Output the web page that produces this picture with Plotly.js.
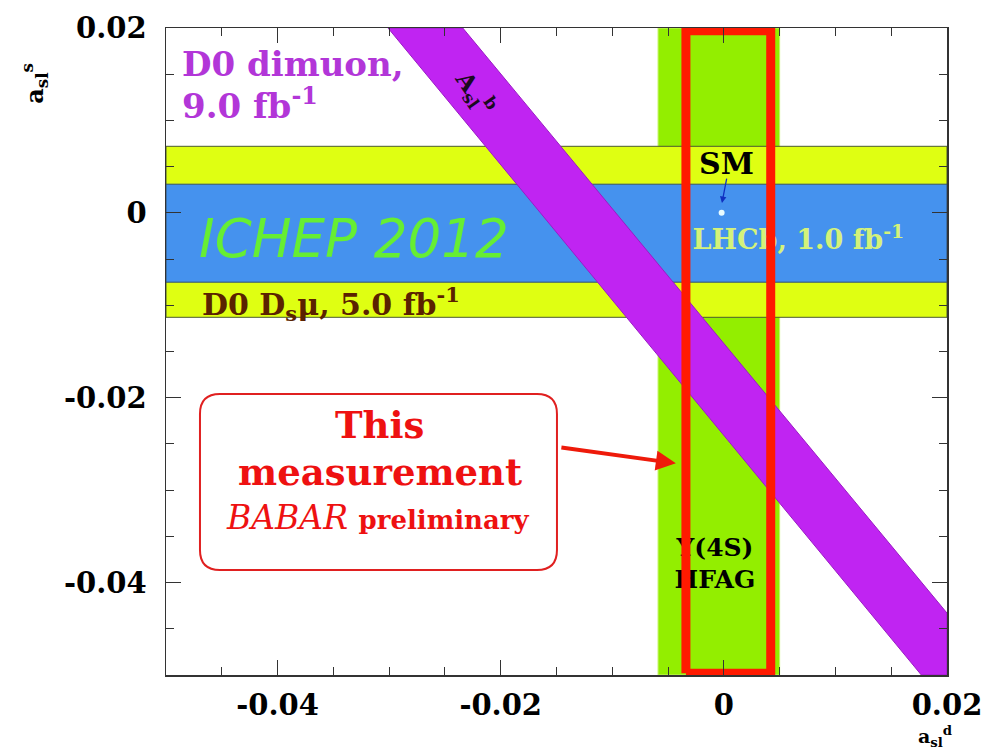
<!DOCTYPE html>
<html>
<head>
<meta charset="utf-8">
<script src="https://cdn.plot.ly/plotly-3.0.1.min.js"></script>
<style>
  html, body { margin: 0; padding: 0; background: #ffffff; }
  #chart { width: 991px; height: 751px; }
</style>
</head>
<body>
<div id="chart"></div>
<script>
// ---------------- data ----------------
const xRange = [-0.05, 0.02];          // a_sl^d axis range
const yRange = [-0.05, 0.02];          // a_sl^s axis range
const xTickVals = [-0.04, -0.02, 0, 0.02];
const xTickText = ['-0.04', '-0.02', '0', '0.02'];
const yTickVals = [-0.04, -0.02, 0, 0.02];
const yTickText = ['-0.04', '-0.02', '0', '0.02'];

// Upsilon(4S) HFAG band in a_sl^d
const hfagBand = [-0.0059, 0.0050];
// D0 Ds mu band (outer, yellow) in a_sl^s
const d0DsmuBand = [-0.0113, 0.0072];
// LHCb band (inner, blue) in a_sl^s
const lhcbBand = [-0.0075, 0.0031];
// D0 dimuon A_sl^b band corners
const dimuonX = [-0.0301, -0.0234, 0.0200, 0.0200, 0.0177];
const dimuonY = [ 0.0200,  0.0200, -0.0433, -0.0500, -0.0500];
// This measurement (BABAR) box
const babarX = [-0.0034, 0.0042];
const babarY = [-0.0498, 0.0197];
// Standard Model point
const smX = [-0.0002];
const smY = [0.0000];

// ---------------- helpers ----------------
function vBand(r, y) { return { x: [r[0], r[1], r[1], r[0], r[0]], y: [y[0], y[0], y[1], y[1], y[0]] }; }
function hBand(r, x) { return { x: [x[0], x[1], x[1], x[0], x[0]], y: [r[0], r[0], r[1], r[1], r[0]] }; }

const SERIF = 'DejaVu Serif, Liberation Serif, serif';

const g = vBand(hfagBand, yRange);
const yb = hBand(d0DsmuBand, xRange);
const bb = hBand(lhcbBand, xRange);
const rb = vBand(babarX, babarY);

const traces = [
  { type: 'scatter', mode: 'lines', x: g.x, y: g.y, fill: 'toself',
    fillcolor: '#93ee00', line: { color: '#c6f56a', width: 1 }, hoverinfo: 'skip', showlegend: false },
  { type: 'scatter', mode: 'lines', x: yb.x, y: yb.y, fill: 'toself',
    fillcolor: '#dfff12', line: { color: '#4a5a30', width: 1 }, hoverinfo: 'skip', showlegend: false },
  { type: 'scatter', mode: 'lines', x: bb.x, y: bb.y, fill: 'toself',
    fillcolor: '#4592ee', line: { color: '#35506a', width: 1 }, hoverinfo: 'skip', showlegend: false },
  { type: 'scatter', mode: 'lines', x: dimuonX.concat([dimuonX[0]]), y: dimuonY.concat([dimuonY[0]]), fill: 'toself',
    fillcolor: '#c024f2', line: { color: '#9a1cc4', width: 1 }, hoverinfo: 'skip', showlegend: false },
  { type: 'scatter', mode: 'markers', x: smX, y: smY,
    marker: { color: '#e8fbff', size: 6 }, hoverinfo: 'skip', showlegend: false },
  { type: 'scatter', mode: 'text', x: [lhcbBand[0] + 0.0047], y: [-0.0032],
    text: ['<b>LHCb, 1.0 fb<sup>-1</sup></b>'], textposition: 'middle right',
    textfont: { family: SERIF, size: 27, color: '#d4f27a' }, hoverinfo: 'skip', showlegend: false },
  { type: 'scatter', mode: 'text', x: [-0.0008], y: [-0.0382],
    text: ['<b>Υ(4S)<br>HFAG</b>'], textposition: 'middle center',
    textfont: { family: SERIF, size: 25, color: '#000000' }, hoverinfo: 'skip', showlegend: false },
  { type: 'scatter', mode: 'lines', x: rb.x, y: rb.y,
    line: { color: '#ff1a00', width: 9 }, hoverinfo: 'skip', showlegend: false }
];

// rounded callout box (paper coordinates)
const bx0 = 0.0435, bx1 = 0.5006, byT = 0.4343, byB = 0.1623, rx = 0.0256, ry = 0.0309;
const boxPath = `M ${bx0 + rx},${byT} L ${bx1 - rx},${byT} Q ${bx1},${byT} ${bx1},${byT - ry} ` +
  `L ${bx1},${byB + ry} Q ${bx1},${byB} ${bx1 - rx},${byB} L ${bx0 + rx},${byB} ` +
  `Q ${bx0},${byB} ${bx0},${byB + ry} L ${bx0},${byT - ry} Q ${bx0},${byT} ${bx0 + rx},${byT} Z`;

const axisCommon = {
  showgrid: false, zeroline: false, showline: true, linecolor: '#333333', linewidth: 1.5,
  mirror: 'ticks', ticks: 'inside', ticklen: 15, tickwidth: 1.2, tickcolor: '#333333',
  tickmode: 'array', tickfont: { family: SERIF, size: 29, color: '#000000', weight: 'bold' },
  minor: { dtick: 0.005, ticks: 'inside', ticklen: 8, tickwidth: 1, tickcolor: '#333333' }
};

function note(x, y, text, font, extra) {
  return Object.assign({ xref: 'paper', yref: 'paper', x: x, y: y, xanchor: 'center', yanchor: 'middle',
    showarrow: false, text: text, font: font }, extra || {});
}

const layout = {
  width: 991, height: 751,
  margin: { l: 166, r: 44, t: 28, b: 76 },
  paper_bgcolor: '#ffffff', plot_bgcolor: '#ffffff',
  showlegend: false,
  xaxis: Object.assign({}, axisCommon, { range: xRange, tickvals: xTickVals, ticktext: xTickText, ticklabelstandoff: 4 }),
  yaxis: Object.assign({}, axisCommon, { range: yRange, tickvals: yTickVals, ticktext: yTickText, ticklabelstandoff: 12 }),
  shapes: [
    { type: 'path', xref: 'paper', yref: 'paper', path: boxPath, fillcolor: 'rgba(255,255,255,0)',
      line: { color: '#e02020', width: 2 }, layer: 'above' }
  ],
  annotations: [
    note(0.018, 0.944, '<b>D0 dimuon,</b>', { family: SERIF, size: 34, color: '#b236d8' }, { xanchor: 'left' }),
    note(0.018, 0.883, '<b>9.0 fb<sup>-1</sup></b>', { family: SERIF, size: 34, color: '#b236d8' }, { xanchor: 'left' }),
    note(0.395, 0.900, '<b>A<sub>sl</sub><sup>b</sup></b>', { family: SERIF, size: 24, color: '#1a0a20' }, { textangle: 55 }),
    note(0.040, 0.675, '<i>ICHEP 2012</i>', { family: 'DejaVu Sans, sans-serif', size: 53, color: '#66ee33' }, { xanchor: 'left' }),
    note(0.044, 0.573, '<b>D0 D<sub>s</sub>μ, 5.0 fb<sup>-1</sup></b>', { family: SERIF, size: 30, color: '#5a2200' }, { xanchor: 'left' }),
    note(0.718, 0.791, '<b>SM</b>', { family: SERIF, size: 30, color: '#000000' }),
    { xref: 'x', yref: 'y', x: -0.00017, y: 0.00106, ax: 5, ay: -26, showarrow: true, text: '',
      arrowhead: 2, arrowsize: 1, arrowwidth: 1.3, arrowcolor: '#1030c0', standoff: 0 },
    note(0.274, 0.386, '<b>This</b>', { family: SERIF, size: 37, color: '#ee1111' }),
    note(0.274, 0.314, '<b>measurement</b>', { family: SERIF, size: 37, color: '#ee1111' }),
    note(0.271, 0.243, '<i>BABAR</i> <b><span style="font-size:26px">preliminary</span></b>',
      { family: SERIF, size: 33, color: '#ee1111' }),
    { xref: 'x', yref: 'y', x: -0.0043, y: -0.0271, ax: -116, ay: -16, showarrow: true, text: '',
      arrowhead: 2, arrowsize: 1, arrowwidth: 4, arrowcolor: '#ee1a0a', standoff: 0 },
    note(-0.168, 0.915, '<b>a<sub>sl</sub><sup>s</sup></b>', { family: SERIF, size: 24, color: '#000000' }, { textangle: -90 }),
    note(0.985, -0.071, '<b>a<sub>sl</sub><sup>d</sup></b>', { family: SERIF, size: 19, color: '#000000' }, { yanchor: 'top' })
  ]
};

Plotly.newPlot('chart', traces, layout, { staticPlot: true, displayModeBar: false });
</script>
</body>
</html>
